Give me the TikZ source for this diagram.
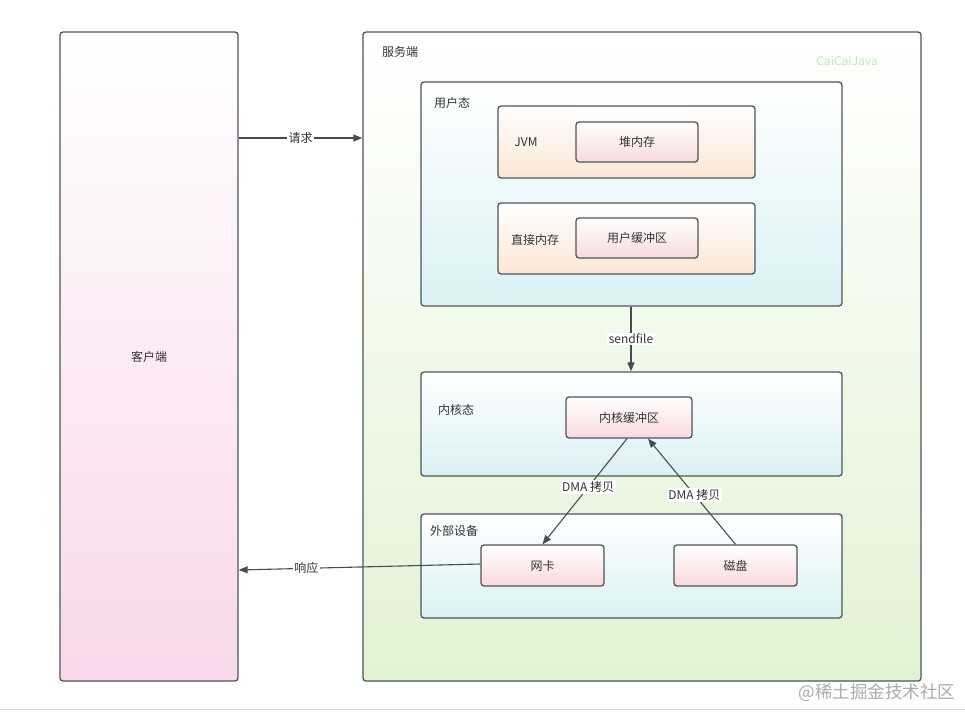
\documentclass[tikz,border=0pt]{standalone}
\usepackage{fontspec}
\setmainfont{Noto Sans CJK SC}
\usetikzlibrary{arrows.meta}
\definecolor{bordc}{HTML}{4F555B}
\definecolor{txtc}{HTML}{333333}
\definecolor{clientc}{HTML}{F8D8EA}
\definecolor{serverc}{HTML}{E2F3D4}
\definecolor{cyanc}{HTML}{DAF1F4}
\definecolor{orangec}{HTML}{FBE6D4}
\definecolor{pinkc}{HTML}{F9D9DC}
\definecolor{wmc}{HTML}{C4E8B5}
\definecolor{wmgray}{HTML}{ABABAB}
\tikzset{
  box/.style={draw=bordc, line width=1.3pt, rounded corners=3pt, inner sep=0pt, top color=white},
  clientbox/.style={box, bottom color=clientc},
  serverbox/.style={box, bottom color=serverc},
  cyanbox/.style={box, bottom color=cyanc},
  orangebox/.style={box, bottom color=orangec},
  pinkbox/.style={box, bottom color=pinkc, text=txtc, font=\fontsize{12}{14}\selectfont},
  lbl/.style={text=txtc, font=\fontsize{12}{14}\selectfont, inner sep=0pt},
  conn/.style={draw=bordc!90!black, line width=1.1pt, -{Triangle[length=9pt,width=7pt]}},
  edgelbl/.style={fill=white, text=txtc, font=\fontsize{12}{14}\selectfont, inner sep=1.5pt}
}
\begin{document}
\begin{tikzpicture}[x=1pt,y=-1pt]
\useasboundingbox (0,0) rectangle (965,712);
\draw[gray!30, line width=1pt] (0,709) -- (965,709);
% containers
\node[clientbox, minimum width=178pt, minimum height=649pt] (client) at (149,356.5) {};
\node[lbl] (clientlbl) at (149,357) {客户端};
\node[serverbox, minimum width=558pt, minimum height=649pt] (server) at (642,356.5) {};
\node[lbl] (serverlbl) at (400,52) {服务端};
\node[lbl, text=wmc] (cai) at (847,61) {CaiCaiJava};
% user mode
\node[cyanbox, minimum width=421pt, minimum height=224pt] (user) at (631.5,194) {};
\node[lbl] (userlbl) at (452,103) {用户态};
\node[orangebox, minimum width=257pt, minimum height=72pt] (jvm) at (626.5,142) {};
\node[lbl] (jvmlbl) at (526,142) {JVM};
\node[pinkbox, minimum width=122pt, minimum height=40pt] (heap) at (637,142) {堆内存};
\node[orangebox, minimum width=257pt, minimum height=71pt] (direct) at (626.5,238.5) {};
\node[lbl] (directlbl) at (535,240) {直接内存};
\node[pinkbox, minimum width=122pt, minimum height=40pt] (ubuf) at (637,238) {用户缓冲区};
% kernel
\node[cyanbox, minimum width=421pt, minimum height=104pt] (kernel) at (631.5,424) {};
\node[lbl] (kernellbl) at (456,410) {内核态};
\node[pinkbox, minimum width=126pt, minimum height=41pt] (kbuf) at (629,417.5) {内核缓冲区};
% external
\node[cyanbox, minimum width=421pt, minimum height=104pt] (ext) at (631.5,566) {};
\node[lbl] (extlbl) at (454,531) {外部设备};
\node[pinkbox, minimum width=123pt, minimum height=41pt] (nic) at (542.5,565.5) {网卡};
\node[pinkbox, minimum width=123pt, minimum height=41pt] (disk) at (735.5,565.5) {磁盘};
% connectors
\coordinate (rq) at (0,138);
\coordinate (rs) at (0,570);
\draw[conn] (client.east |- rq) -- node[edgelbl, pos=0.5] {请求} (server.west |- rq);
\draw[conn] ([xshift=-0.5pt]user.south) -- node[edgelbl, pos=0.5] {sendfile} ([xshift=-0.5pt]kernel.north);
\draw[conn] ([xshift=-2pt]kbuf.south) -- node[edgelbl, pos=0.46] {DMA 拷贝} (nic.north);
\draw[conn] (disk.north) -- node[edgelbl, pos=0.47] {DMA 拷贝} ([xshift=19pt]kbuf.south);
\draw[conn] ([yshift=1.5pt]nic.west) -- node[edgelbl, pos=0.72] {响应} (client.east |- rs);
% watermark
\node[lbl, text=wmgray, font=\fontsize{17.5}{20}\selectfont] (wm) at (877,693) {@稀土掘金技术社区};
\end{tikzpicture}
\end{document}
